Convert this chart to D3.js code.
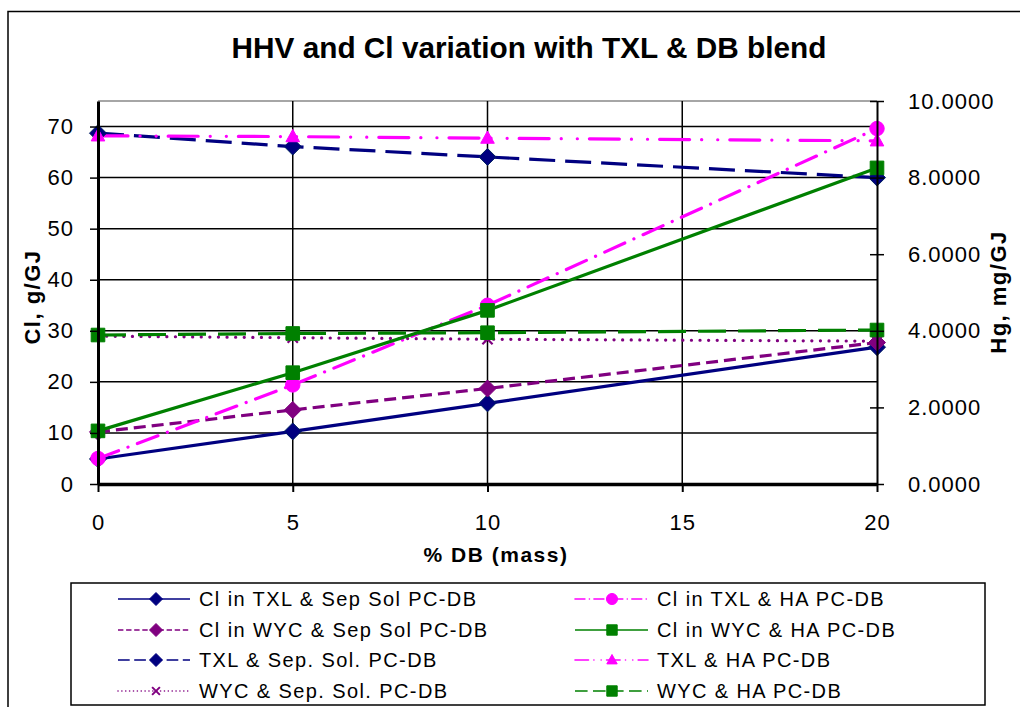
<!DOCTYPE html>
<html><head><meta charset="utf-8">
<script src="https://cdn.jsdelivr.net/npm/d3@7"></script>
<style>body{margin:0;background:#fff}svg{display:block;font-family:"Liberation Sans",Arial,sans-serif}</style>
</head><body><svg id="c" width="1020" height="707"></svg>
<script>
const xValues = [0, 5, 10, 20];
const xTicks = [0, 5, 10, 15, 20];
const leftTicks = [0, 10, 20, 30, 40, 50, 60, 70];
const rightTicks = [0, 2, 4, 6, 8, 10];
// Cl series (left axis, g/GJ)
const clTxlSep = [4.9, 10.3, 15.8, 26.8];
const clWycSep = [10.2, 14.5, 18.7, 27.7];
const clTxlHA = [5.0, 19.4, 35.0, 69.6];
const clWycHA = [10.4, 21.8, 34.0, 61.9];
// Hg series (right axis, mg/GJ)
const hgTxlSep = [9.16, 8.81, 8.54, 8.0];
const hgWycSep = [3.86, 3.82, 3.78, 3.73];
const hgTxlHA = [9.09, 9.07, 9.03, 8.96];
const hgWycHA = [3.89, 3.93, 3.95, 4.02];

const seriesNames = ["Cl in TXL & Sep Sol PC-DB","Cl in WYC & Sep Sol PC-DB","TXL & Sep. Sol. PC-DB","WYC & Sep. Sol. PC-DB",
  "Cl in TXL & HA PC-DB","Cl in WYC & HA PC-DB","TXL & HA PC-DB","WYC & HA PC-DB"];

const series = [
  {name:seriesNames[0], vals:clTxlSep, axis:"L", color:"#000080", dash:null, marker:"diamond"},
  {name:seriesNames[1], vals:clWycSep, axis:"L", color:"#800080", dash:"12,6", marker:"diamond"},
  {name:seriesNames[2], vals:hgTxlSep, axis:"R", color:"#000080", dash:"26,10", marker:"diamond"},
  {name:seriesNames[3], vals:hgWycSep, axis:"R", color:"#800080", dash:"0.1,8.5", marker:"x", cap:"round"},
  {name:seriesNames[4], vals:clTxlHA, axis:"L", color:"#FF00FF", dash:"22,10,0.1,10", marker:"circle", cap:"round"},
  {name:seriesNames[5], vals:clWycHA, axis:"L", color:"#008000", dash:null, marker:"square"},
  {name:seriesNames[6], vals:hgTxlHA, axis:"R", color:"#FF00FF", dash:"30,12,0.1,16,0.1,12", marker:"triangle", cap:"round"},
  {name:seriesNames[7], vals:hgWycHA, axis:"R", color:"#008000", dash:"28,12", marker:"square"}
];

const svg = d3.select("#c");
const X0=98, X1=877, Y0=484, Y1=101;
const x = d3.scaleLinear().domain([0,20]).range([X0,X1]);
const yL = d3.scaleLinear().domain([0,75]).range([Y0,Y1]);
const yR = d3.scaleLinear().domain([0,10]).range([Y0,Y1]);

// outer border
svg.append("rect").attr("x",8).attr("y",11.5).attr("width",1040).attr("height",720)
  .attr("fill","none").attr("stroke","#000").attr("stroke-width",1.5);

// plot top border
svg.append("line").attr("x1",X0).attr("x2",X1).attr("y1",Y1).attr("y2",Y1).attr("stroke","#888").attr("stroke-width",1.5);

// gridlines
svg.append("g").selectAll("line").data(leftTicks.filter(d=>d>0)).join("line")
  .attr("x1",X0).attr("x2",X1).attr("y1",d=>yL(d)).attr("y2",d=>yL(d)).attr("stroke","#000").attr("stroke-width",1.5);
svg.append("g").selectAll("line").data(xTicks.filter(d=>d>0&&d<20)).join("line")
  .attr("x1",d=>x(d)).attr("x2",d=>x(d)).attr("y1",Y1).attr("y2",Y0).attr("stroke","#000").attr("stroke-width",1.5);

// marker shapes (r = half size)
function markerPath(type, r){
  if(type==="diamond") return `M0,${-r}L${r},0L0,${r}L${-r},0Z`;
  if(type==="square") return `M${-r*0.8},${-r*0.8}H${r*0.8}V${r*0.8}H${-r*0.8}Z`;
  if(type==="circle") return d3.symbol(d3.symbolCircle, Math.PI*(r*0.85)*(r*0.85))();
  if(type==="triangle") return `M0,${-r*0.85}L${r*0.8},${r*0.6}L${-r*0.8},${r*0.6}Z`;
  if(type==="x") return `M${-r*0.6},${-r*0.6}L${r*0.6},${r*0.6}M${r*0.6},${-r*0.6}L${-r*0.6},${r*0.6}`;
}
const gS = svg.append("g");
series.forEach(s=>{
  const ys = s.axis==="L"? yL : yR;
  const pts = xValues.map((v,i)=>[x(v), ys(s.vals[i])]);
  gS.append("path").attr("d", d3.line()(pts)).attr("fill","none").attr("stroke",s.color)
    .attr("stroke-width",3.2).attr("stroke-dasharray",s.dash).attr("stroke-linecap",s.cap||"butt");
});
series.forEach(s=>{
  const ys = s.axis==="L"? yL : yR;
  xValues.forEach((v,i)=>{
    gS.append("path").attr("d", markerPath(s.marker, 8.5))
      .attr("transform",`translate(${x(v)},${ys(s.vals[i])})`)
      .attr("fill", s.marker==="x"?"none":s.color)
      .attr("stroke", s.marker==="diamond"&&s.color==="#000080"?"#002060":s.color)
      .attr("stroke-width", s.marker==="x"?2.2:1);
  });
});

// axes
const gx = svg.append("g").attr("transform",`translate(0,${Y0})`)
  .call(d3.axisBottom(x).tickValues(xTicks).tickSize(8).tickPadding(22).tickSizeOuter(0));
const gl = svg.append("g").attr("transform",`translate(${X0},0)`)
  .call(d3.axisLeft(yL).tickValues(leftTicks).tickSize(8).tickPadding(16).tickSizeOuter(0));
const gr = svg.append("g").attr("transform",`translate(${X1},0)`)
  .call(d3.axisRight(yR).tickValues(rightTicks).tickFormat(d3.format(".4f")).tickSize(7).tickPadding(24).tickSizeOuter(0));
gr.selectAll(".tick line").attr("x1",-7);
[gx,gl,gr].forEach(g=>{
  g.select(".domain").attr("stroke","#000");
  g.selectAll(".tick line").attr("stroke","#000").attr("stroke-width",1.5);
  g.selectAll("text").attr("font-family","Liberation Sans, Arial, sans-serif").attr("font-size",22).attr("fill","#000")
    .attr("letter-spacing","1px");
});
gx.select(".domain").attr("stroke-width",3.5);
gl.select(".domain").attr("stroke-width",3);
gr.select(".domain").attr("stroke-width",2);
gx.selectAll(".tick line").attr("stroke-width",2);

// titles
svg.append("text").attr("x",529).attr("y",58).attr("text-anchor","middle").attr("font-weight","bold")
  .attr("font-size",30).attr("textLength",595).attr("lengthAdjust","spacingAndGlyphs")
  .text("HHV and Cl variation with TXL & DB blend");
svg.append("text").attr("x",496).attr("y",562).attr("text-anchor","middle").attr("font-weight","bold")
  .attr("font-size",21).attr("letter-spacing","1.5px").text("% DB (mass)");
svg.append("text").attr("transform","translate(40,297) rotate(-90)").attr("text-anchor","middle").attr("font-weight","bold")
  .attr("font-size",22).attr("letter-spacing","1.5px").text("Cl, g/GJ");
svg.append("text").attr("transform","translate(1006,292) rotate(-90)").attr("text-anchor","middle").attr("font-weight","bold")
  .attr("font-size",22).attr("letter-spacing","1.5px").text("Hg, mg/GJ");

// legend
svg.append("rect").attr("x",71).attr("y",583).attr("width",914).attr("height",122)
  .attr("fill","#fff").attr("stroke","#000").attr("stroke-width",1.5);
const legOrder = [0,4,1,5,2,6,3,7];
const rowY = [599,630,660,691];
legOrder.forEach((si,k)=>{
  const s = series[si];
  const col = k%2, row = Math.floor(k/2);
  const lx0 = col? 575:118, lx1 = col? 648:190, mx = col? 612:156, tx = col? 657:199;
  const y = rowY[row];
  const g = svg.append("g");
  const ldash = s.dash ? s.dash.split(",").map(v=>+v*0.45).join(",") : null;
  g.append("line").attr("x1",lx0).attr("x2",lx1).attr("y1",y).attr("y2",y).attr("stroke",s.color)
    .attr("stroke-width",1.6).attr("stroke-dasharray",ldash).attr("stroke-linecap",s.cap||"butt");
  g.append("path").attr("d", markerPath(s.marker, 6.5)).attr("transform",`translate(${mx},${y})`)
    .attr("fill", s.marker==="x"?"none":s.color).attr("stroke",s.color).attr("stroke-width", s.marker==="x"?2:1);
  g.append("text").attr("x",tx).attr("y",y+7).attr("font-size",20).attr("letter-spacing","1.4px").text(s.name);
});
</script></body></html>
